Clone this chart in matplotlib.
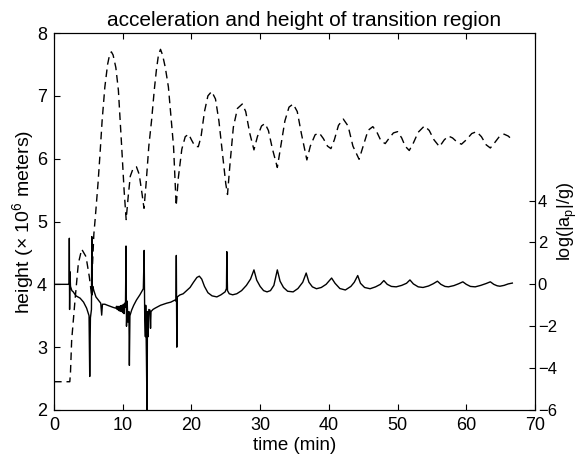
import matplotlib
matplotlib.use("Agg")
import matplotlib.pyplot as plt

plt.rcParams['font.family'] = ['Liberation Sans', 'DejaVu Sans']
plt.rcParams['mathtext.fontset'] = 'custom'
plt.rcParams['mathtext.rm'] = 'Liberation Sans'
plt.rcParams['mathtext.it'] = 'Liberation Sans:italic'

# ---- data: transition-region height (dashed, left axis, 10^6 m) ----
height_t = [0, 2.3, 2.4, 2.57, 3.06, 3.54, 4.03, 4.66, 5.14, 5.45, 5.6, 5.8, 6.0, 6.4, 6.7,
            7.0, 7.4, 7.8, 8.1, 8.35, 8.6, 9.0, 9.37, 9.85, 10.2, 10.5, 10.8, 11.1, 11.5,
            12.0, 12.4, 12.8, 13.1, 13.4, 13.8, 14.2, 14.6, 14.9, 15.2, 15.5, 15.8, 16.2,
            16.65, 17.0, 17.4, 17.78, 18.1, 18.6, 19.1, 19.6, 20.0, 20.5, 21.0, 21.4, 21.9,
            22.4, 22.95, 23.5, 24.0, 24.5, 25.0, 25.25, 25.6, 26.1, 26.7, 27.4, 27.9, 28.5,
            29.1, 29.6, 30.2, 30.7, 31.2, 31.8, 32.5, 33.0, 33.6, 34.2, 34.8, 35.4, 36.0,
            36.8, 37.3, 38.0, 38.6, 39.2, 39.8, 40.3, 40.8, 41.4, 42.1, 42.8, 43.5, 44.4,
            45.0, 45.7, 46.4, 47.0, 47.6, 48.2, 48.8, 49.4, 50.0, 50.6, 51.1, 51.7, 52.3,
            53.0, 53.9, 54.6, 55.3, 56.1, 56.8, 57.4, 58.0, 58.7, 59.3, 60.0, 60.8, 61.5,
            62.2, 62.9, 63.5, 64.1, 64.8, 65.5, 66.1, 66.7]
height_v = [2.45, 2.45, 2.6, 3.11, 3.75, 4.33, 4.56, 4.44, 4.12, 3.85, 4.3, 4.8, 5.05, 5.6, 6.08,
            6.6, 7.14, 7.5, 7.66, 7.70, 7.65, 7.45, 7.09, 6.19, 5.5, 5.03, 5.4, 5.72, 5.84,
            5.87, 5.75, 5.45, 5.21, 5.6, 6.2, 6.61, 7.1, 7.41, 7.65, 7.74, 7.65, 7.45,
            7.14, 6.7, 6.19, 5.25, 5.7, 6.15, 6.35, 6.39, 6.3, 6.2, 6.19, 6.35, 6.75,
            7.0, 7.07, 6.95, 6.6, 6.1, 5.6, 5.43, 5.9, 6.5, 6.8, 6.87, 6.75, 6.4,
            6.14, 6.35, 6.52, 6.56, 6.45, 6.15, 5.86, 6.2, 6.6, 6.82, 6.87, 6.75, 6.4,
            5.98, 6.2, 6.38, 6.41, 6.32, 6.2, 6.16, 6.3, 6.53, 6.63, 6.52, 6.2, 5.99,
            6.2, 6.45, 6.51, 6.42, 6.28, 6.24, 6.33, 6.41, 6.43, 6.33, 6.2, 6.13, 6.25,
            6.42, 6.52, 6.45, 6.3, 6.19, 6.3, 6.36, 6.33, 6.26, 6.23, 6.3, 6.4, 6.43,
            6.35, 6.22, 6.17, 6.25, 6.35, 6.39, 6.36, 6.30]

# ---- data: log(|a_p|/g) (solid, right axis) ----
accel_t = [0, 2.2, 2.23, 2.27, 2.32, 2.4, 2.6, 2.8, 3.2, 3.8, 4.3, 4.75, 5.1, 5.2, 5.3, 5.45,
           5.5, 5.56, 5.65, 5.8, 6.1, 6.45, 6.8, 6.94, 7.05, 7.4, 7.7, 8.2, 8.6, 9.0,
           9.1, 9.2, 9.3, 9.4, 9.5, 9.6, 9.7, 9.8, 9.9, 10.0, 10.1, 10.2, 10.3, 10.4,
           10.48, 10.55, 10.65, 10.75, 10.9, 10.97, 11.05, 11.3, 11.6, 12.0, 12.5, 13.0,
           13.12, 13.2, 13.3, 13.35, 13.45, 13.55, 13.6, 13.7, 13.8, 13.97, 14.05, 14.12,
           14.4, 14.7, 15.5, 16.4, 17.0, 17.6, 17.75, 17.8, 17.87, 17.95, 18.3, 18.8,
           19.3, 19.8, 20.3, 20.8, 21.15, 21.5, 21.9, 22.4, 23.0, 23.7, 24.3, 24.9, 25.1,
           25.15, 25.25, 25.5, 26.0, 26.6, 27.3, 28.0, 28.6, 29.1, 29.5, 30.0, 30.5, 31.0,
           31.5, 32.0, 32.5, 32.9, 33.4, 34.0, 34.8, 35.5, 36.2, 36.7, 37.1, 37.6, 38.2,
           38.9, 39.6, 40.4, 40.9, 41.6, 42.4, 43.2, 43.7, 44.2, 44.6, 45.2, 46.0, 46.8,
           47.5, 48.0, 48.5, 49.1, 49.8, 50.6, 51.3, 51.8, 52.3, 53.0, 53.7, 54.5, 55.2,
           55.8, 56.3, 56.9, 57.4, 58.2, 58.9, 59.5, 60.0, 60.6, 61.3, 62.1, 62.9, 63.5,
           64.0, 64.5, 64.9, 65.5, 66.1, 66.7]
accel_v = [0, 0, 2.2, -1.2, 0.6, -0.1, -0.3, -0.36, -0.55, -0.66, -0.85, -1.14, -1.5, -4.4, -1.6, -1.2,
           2.28, -0.5, -0.1, -0.3, -0.6, -0.75, -0.9, -1.47, -0.95, -0.95, -0.99, -1.05, -1.1, -1.14,
           -1.05, -1.2, -1.05, -1.25, -1.05, -1.28, -1.02, -1.3, -1.0, -1.35, -0.95, -1.4, -0.9, -1.1,
           1.83, -2.0, -0.8, -1.8, -1.3, -3.87, -1.5, -1.23, -1.0, -0.75, -0.5, -0.21,
           1.62, -1.5, -2.5, -1.0, -3.5, -6.5, -1.3, -2.5, -1.2, -1.23, -2.1, -1.3,
           -1.2, -1.14, -1.0, -0.9, -0.85, -0.75, -0.8, 1.38, -3.0, -0.6, -0.51, -0.45,
           -0.3, -0.15, 0.1, 0.33, 0.39, 0.25, -0.1, -0.4, -0.55, -0.6, -0.5, -0.36, -0.2,
           1.56, -0.3, -0.45, -0.5, -0.45, -0.3, -0.05, 0.25, 0.69, 0.2, -0.1, -0.3, -0.36,
           -0.3, -0.05, 0.69, 0.15, -0.15, -0.33, -0.36, -0.2, 0.1, 0.54, 0.1, -0.12, -0.21,
           -0.15, 0.0, 0.30, 0.05, -0.2, -0.27, -0.1, 0.1, 0.42, 0.05, -0.15, -0.21, -0.12,
           0.0, 0.18, 0.0, -0.1, -0.12, -0.05, 0.05, 0.21, 0.02, -0.12, -0.15, -0.08, 0.03,
           0.15, 0.0, -0.1, -0.12, -0.06, 0.03, 0.12, 0.0, -0.1, -0.12, -0.05, 0.04, 0.12,
           0.0, -0.07, -0.09, -0.05, 0.02, 0.06]

x_ticks = [0, 10, 20, 30, 40, 50, 60, 70]
left_ticks = [2, 3, 4, 5, 6, 7, 8]
right_ticks = [-6, -4, -2, 0, 2, 4]

fig = plt.figure(figsize=(5.8, 4.62), dpi=100)
ax1 = fig.add_axes([54 / 580, 1 - 410 / 462, (535 - 54) / 580, (410 - 33) / 462])
ax1.plot(height_t, height_v, color='black', lw=1.0, linestyle=(0, (5.5, 3.5)))
ax1.set_xlim(0, 70)
ax1.set_ylim(2, 8)
ax1.set_xticks(x_ticks)
ax1.set_yticks(left_ticks)
ax1.tick_params(direction='in', top=True, right=True, length=4, width=0.8,
                labelsize=13, pad=5)
ax1.set_xlabel('time (min)', fontsize=13.5, labelpad=2)
ax1.set_ylabel('height ($\\times$ 10$^6$ meters)', fontsize=14, labelpad=1)
ax1.set_title('acceleration and height of transition region', fontsize=15, pad=5, x=0.52)

ax2 = ax1.twinx()
ax2.plot(accel_t, accel_v, color='black', lw=1.0)
ax2.set_ylim(-6, 12)
ax2.set_yticks(right_ticks)
ax2.tick_params(direction='in', length=4, width=0.8, labelsize=12, pad=2)
ax2.set_ylabel('log(|a$_\\mathrm{p}$|/g)', fontsize=13, labelpad=-1)

for ax in (ax1, ax2):
    for s in ax.spines.values():
        s.set_linewidth(0.8)

fig.savefig('out.png', dpi=100)
